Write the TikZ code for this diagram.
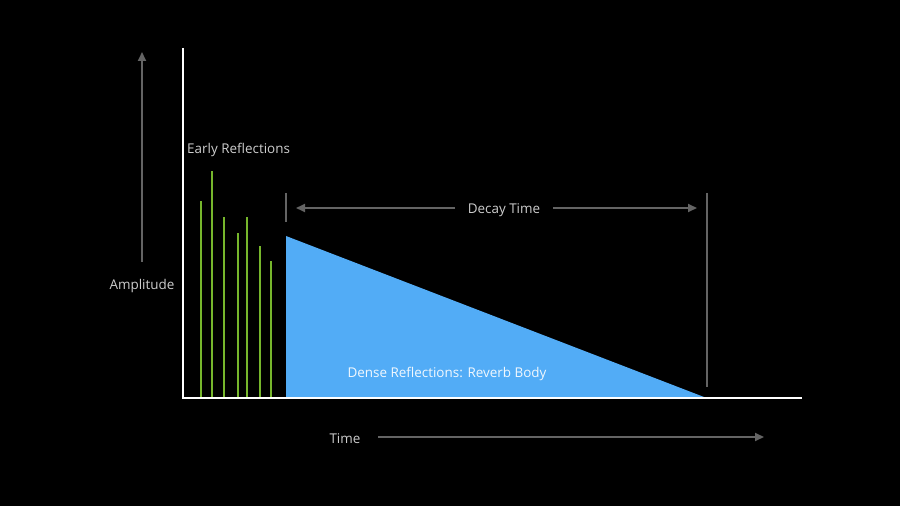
\documentclass[tikz,border=0pt]{standalone}
\usepackage{fontspec}
\setmainfont{Open Sans}
\usetikzlibrary{arrows.meta}
\definecolor{bluefill}{RGB}{82,172,246}
\definecolor{refgreen}{RGB}{118,182,44}
\definecolor{axisgray}{RGB}{100,100,100}
\definecolor{labelgray}{RGB}{205,205,205}
\tikzset{
  axisline/.style={draw=white, line width=2.5bp},
  guide/.style={draw=axisgray, line width=2bp, -{Triangle[length=9bp,width=8bp]}},
  marker/.style={draw=axisgray, line width=1.2bp},
  refl/.style={draw=refgreen, line width=1.5bp},
  lbl/.style={text=labelgray, font=\fontsize{13.5}{16}\selectfont, inner sep=0pt},
}
\begin{document}
\begin{tikzpicture}[x=1bp,y=-1bp]
\fill[black] (0,0) rectangle (900,506);
\useasboundingbox (0,0) rectangle (900,506);
% reverb body
\fill[bluefill] (286,236) -- (286,397) -- (704,397) -- cycle;
% early reflections
\foreach \x/\t in {201/201, 212/171, 224/217.5, 238/233, 247/217, 260/246, 271/261}{
  \draw[refl] (\x,397) -- (\x,\t);
}
% axes
\coordinate (origin) at (183,398);
\coordinate (ytop) at (183,48);
\coordinate (xend) at (802,398);
\draw[axisline] (ytop) -- (origin) -- (xend);
% amplitude
\node[lbl] (amp) at (142,286.5) {Amplitude};
\coordinate (ampbase) at (142,262);
\coordinate (amptip) at (142,52);
\draw[guide] (ampbase) -- (amptip);
% time
\node[lbl] (time) at (345,439) {Time};
\coordinate (timebase) at (378,437);
\coordinate (timetip) at (764,437);
\draw[guide] (timebase) -- (timetip);
% early reflections label
\node[lbl, anchor=west] (early) at (187,149.5) {Early Reflections};
% decay time
\coordinate (mlT) at (286,193);
\coordinate (mlB) at (286,222);
\coordinate (mrT) at (707,193);
\coordinate (mrB) at (707,387);
\draw[marker] (mlT) -- (mlB);
\draw[marker] (mrT) -- (mrB);
\node[lbl] (decay) at (504,210) {Decay Time};
\coordinate (dl) at (296,208);
\coordinate (dr) at (697,208);
\coordinate (dls) at (455,208);
\coordinate (drs) at (553,208);
\draw[guide] (dls) -- (dl);
\draw[guide] (drs) -- (dr);
% body label
\node[lbl, text=white!92!bluefill] (body) at (447,374) {Dense Reflections: Reverb Body};
\end{tikzpicture}
\end{document}
